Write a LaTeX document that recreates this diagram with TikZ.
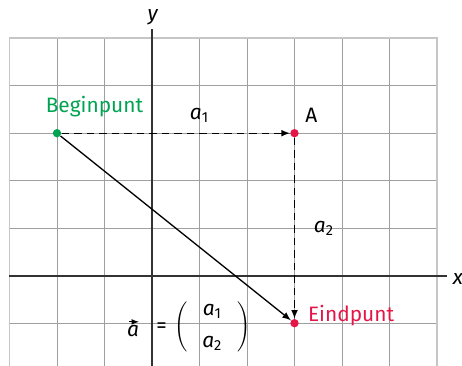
\documentclass[tikz,border=0pt]{standalone}
\usepackage{fontspec}
\setmainfont{Fira Sans}
\usetikzlibrary{calc, positioning}
\definecolor{begingroen}{RGB}{0,163,82}
\definecolor{eindrood}{RGB}{228,22,72}

\begin{document}
\begin{tikzpicture}[>=latex, font=\fontsize{12.5}{14}\selectfont,
    punt/.style={circle, inner sep=0pt, minimum size=5pt},
    stippel/.style={dash pattern=on 4.5pt off 3pt, thick},
    as/.style={line width=1pt, black!80}]
    \useasboundingbox (-3.2,-1.901) rectangle (6.526,5.804);

    % Rooster
    \draw[gray!75, line width=0.5pt] (-3,-1.95) grid (6,5);
    \draw[gray!45, line width=1pt] (-3,-1.95) |- (6,5) -- (6,-1.95);

    % Assen
    \draw[as] (-3,0) -- (6.2,0);
    \draw[as] (0,-1.95) -- (0,5.2);
    \node (xas) at (6.44,-0.07) {\textit{x}};
    \node (yas) at (0.02,5.45) {\textit{y}};

    % Punten
    \node[punt, fill=begingroen] (B) at (-2,3) {};
    \node[punt, fill=eindrood] (A) at (3,3) {};
    \node[punt, fill=eindrood] (E) at (3,-1) {};

    % Pijlen
    \draw[->, stippel] (B) -- (A);
    \draw[->, stippel] (A) -- (E);
    \draw[->, thick] (B) -- (E);

    % Labels
    \node[text=begingroen, anchor=south west] (beginlabel) at (-2.36,3.22) {Beginpunt};
    \node[above right=1pt and 1pt of A] (alabel) {A};
    \node (aeen) at (1.0,3.38) {\textit{a}\textsubscript{1}};
    \node (atwee) at (3.62,1.0) {\textit{a}\textsubscript{2}};
    \node[text=eindrood, anchor=west] (eindlabel) at (3.16,-0.85) {Eindpunt};

    % Vector
    \node[inner sep=1pt] (vec) at (-0.4,-1.17) {\textit{a}};
    \draw[->, line width=0.5pt] ($(vec.north)+(-2.5pt,1pt)$) -- ($(vec.north)+(3.5pt,1pt)$);
    \node (is) at (0.2,-1.1) {=};
    \node (kolom) at (1.27,-1.08) {$\left(\begin{array}{@{\hspace{9pt}}c@{\hspace{9pt}}}
        \textit{a}\textsubscript{1}\\[5pt] \textit{a}\textsubscript{2}\end{array}\right)$};
\end{tikzpicture}
\end{document}
